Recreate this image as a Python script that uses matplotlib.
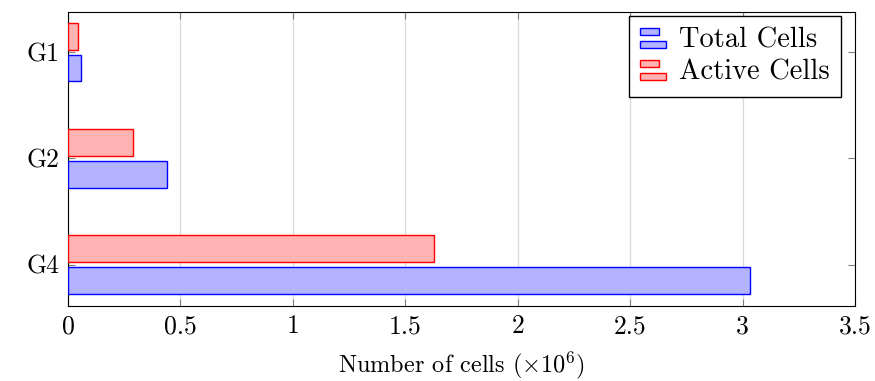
import matplotlib
matplotlib.use('Agg')
import matplotlib.pyplot as plt
from matplotlib.legend_handler import HandlerBase
from matplotlib.patches import Rectangle
import numpy as np

# Data
groups = ['G1', 'G2', 'G4']
total_cells = [0.058, 0.44, 3.035]
active_cells = [0.045, 0.29, 1.627]
x_ticks = [0, 0.5, 1, 1.5, 2, 2.5, 3, 3.5]
x_tick_labels = ['0', '0.5', '1', '1.5', '2', '2.5', '3', '3.5']

plt.rcParams['font.family'] = ['cmr10', 'DejaVu Serif']
plt.rcParams['mathtext.fontset'] = 'cm'
plt.rcParams['axes.unicode_minus'] = False

blue_fill = (0.7, 0.7, 1.0)
red_fill = (1.0, 0.7, 0.7)


# pgfplots-like legend image: two stacked small bars
class TwoBarHandler(HandlerBase):
    def create_artists(self, legend, orig_handle, xdescent, ydescent,
                       width, height, fontsize, trans):
        fc = orig_handle.get_facecolor()
        ec = orig_handle.get_edgecolor()
        h = height * 0.38
        r1 = Rectangle((-xdescent, -ydescent + height * 0.62), width * 0.75, h,
                       facecolor=fc, edgecolor=ec, lw=1, transform=trans)
        r2 = Rectangle((-xdescent, -ydescent - height * 0.02), width, h,
                       facecolor=fc, edgecolor=ec, lw=1, transform=trans)
        return [r1, r2]


fig = plt.figure(figsize=(8.75, 3.81), dpi=100)
ax = fig.add_axes([0.0777, 0.197, 0.8994, 0.7718])

y = np.arange(len(groups))
bar_h = 0.25
off = 0.15
hb = ax.barh(y + off, total_cells, height=bar_h, color=blue_fill,
             edgecolor='blue', linewidth=1, label='Total Cells', zorder=3)
hr = ax.barh(y - off, active_cells, height=bar_h, color=red_fill,
             edgecolor='red', linewidth=1, label='Active Cells', zorder=3)

ax.set_xlim(0, 3.5)
ax.set_ylim(2.39, -0.38)
ax.set_yticks(y)
ax.set_yticklabels(groups)
ax.set_xticks(x_ticks)
ax.set_xticklabels(x_tick_labels)
ax.tick_params(axis='both', which='both', direction='in', length=5,
               top=True, right=True, labelsize=18.5, color='0.5', pad=6)
ax.xaxis.grid(True, color='0.85', linewidth=0.9, zorder=0)
ax.set_axisbelow(True)
for s in ax.spines.values():
    s.set_linewidth(0.8)
ax.set_xlabel(r'Number of cells ($\times10^6$)', fontsize=17.5, labelpad=8)

ax.legend([hb.patches[0], hr.patches[0]], ['Total Cells', 'Active Cells'],
          handler_map={Rectangle: TwoBarHandler()},
          loc='upper right', bbox_to_anchor=(0.982, 0.986), borderaxespad=0,
          fontsize=20.5, fancybox=False, edgecolor='black', framealpha=1,
          handlelength=0.9, handletextpad=0.45, borderpad=0.4,
          labelspacing=0.2)

plt.savefig('out.png', dpi=100)
